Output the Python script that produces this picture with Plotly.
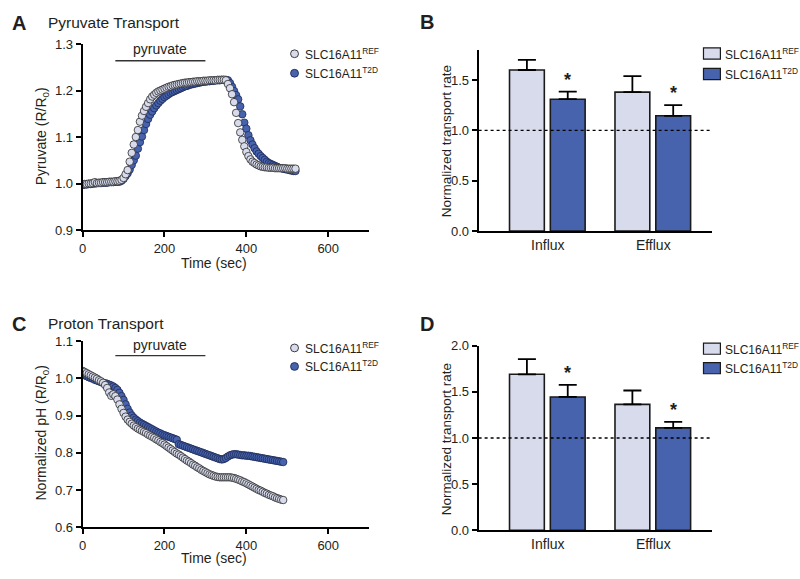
import plotly.graph_objects as go

# ---------------- DATA ----------------
time_A = [0, 5, 10, 15, 20, 25, 30, 35, 40, 45, 50, 55, 60, 65, 70, 75, 80, 85, 90, 95,
          100, 105, 110, 115, 120, 125, 130, 135, 140, 145, 150, 155, 160, 165, 170, 175, 180, 185, 190, 195,
          200, 205, 210, 215, 220, 225, 230, 235, 240, 245, 250, 255, 260, 265, 270, 275, 280, 285, 290, 295,
          300, 305, 310, 315, 320, 325, 330, 335, 340, 345, 350, 355, 360, 365, 370, 375, 380, 385, 390, 395,
          400, 405, 410, 415, 420, 425, 430, 435, 440, 445, 450, 455, 460, 465, 470, 475, 480, 485, 490, 495,
          500, 505, 510, 515, 520]

pyr_ref = [0.998, 0.999, 0.999, 1.000, 1.000, 1.001, 1.003, 1.001, 1.002, 1.002,
           1.003, 1.003, 1.003, 1.004, 1.004, 1.004, 1.005, 1.005, 1.006, 1.008,
           1.012, 1.020, 1.029, 1.047, 1.066, 1.084, 1.100, 1.115, 1.133, 1.146,
           1.156, 1.165, 1.173, 1.181, 1.187, 1.191, 1.195, 1.198, 1.200, 1.202,
           1.204, 1.206, 1.208, 1.209, 1.211, 1.212, 1.213, 1.214, 1.215, 1.216,
           1.217, 1.217, 1.218, 1.218, 1.219, 1.219, 1.220, 1.220, 1.220, 1.221,
           1.221, 1.221, 1.222, 1.222, 1.222, 1.222, 1.223, 1.223, 1.223, 1.223,
           1.222, 1.214, 1.205, 1.192, 1.175, 1.152, 1.130, 1.110, 1.094, 1.080,
           1.068, 1.059, 1.052, 1.047, 1.044, 1.041, 1.039, 1.037, 1.036, 1.035,
           1.035, 1.034, 1.034, 1.034, 1.033, 1.033, 1.033, 1.033, 1.033, 1.033,
           1.032, 1.032, 1.032, 1.032, 1.032]

pyr_t2d = [0.997, 0.998, 0.998, 0.999, 0.999, 1.000, 1.000, 1.001, 1.001, 1.001,
           1.002, 1.002, 1.002, 1.003, 1.003, 1.003, 1.004, 1.004, 1.004, 1.006,
           1.010, 1.016, 1.022, 1.030, 1.040, 1.050, 1.060, 1.075, 1.089, 1.101,
           1.115, 1.128, 1.139, 1.148, 1.155, 1.162, 1.168, 1.173, 1.178, 1.182,
           1.186, 1.189, 1.192, 1.195, 1.197, 1.199, 1.201, 1.203, 1.205, 1.207,
           1.209, 1.210, 1.212, 1.213, 1.214, 1.215, 1.216, 1.217, 1.218, 1.219,
           1.219, 1.220, 1.220, 1.221, 1.221, 1.222, 1.222, 1.222, 1.223, 1.223,
           1.223, 1.222, 1.216, 1.208, 1.199, 1.190, 1.181, 1.166, 1.149, 1.131,
           1.118, 1.104, 1.093, 1.084, 1.076, 1.069, 1.064, 1.059, 1.055, 1.051,
           1.047, 1.044, 1.042, 1.040, 1.038, 1.036, 1.034, 1.033, 1.032, 1.031,
           1.030, 1.029, 1.028, 1.027, 1.027]

time_C = [0, 5, 10, 15, 20, 25, 30, 35, 40, 45, 50, 55, 60, 65, 70, 75, 80, 85, 90, 95,
          100, 105, 110, 115, 120, 125, 130, 135, 140, 145, 150, 155, 160, 165, 170, 175, 180, 185, 190, 195,
          200, 205, 210, 215, 220, 225, 230, 235, 240, 245, 250, 255, 260, 265, 270, 275, 280, 285, 290, 295,
          300, 305, 310, 315, 320, 325, 330, 335, 340, 345, 350, 355, 360, 365, 370, 375, 380, 385, 390, 395,
          400, 405, 410, 415, 420, 425, 430, 435, 440, 445, 450, 455, 460, 465, 470, 475, 480, 485, 490]

ph_ref = [1.020, 1.017, 1.014, 1.011, 1.008, 1.005, 1.002, 0.999, 0.995, 0.992,
          0.988, 0.982, 0.974, 0.962, 0.953, 0.957, 0.952, 0.943, 0.930, 0.918,
          0.907, 0.897, 0.889, 0.883, 0.878, 0.873, 0.869, 0.865, 0.862, 0.859,
          0.856, 0.853, 0.849, 0.846, 0.843, 0.840, 0.836, 0.833, 0.829, 0.826,
          0.822, 0.818, 0.814, 0.810, 0.806, 0.802, 0.798, 0.795, 0.791, 0.787,
          0.783, 0.779, 0.776, 0.772, 0.768, 0.765, 0.761, 0.758, 0.754, 0.751,
          0.748, 0.745, 0.742, 0.740, 0.738, 0.736, 0.735, 0.734, 0.734, 0.734,
          0.734, 0.734, 0.734, 0.733, 0.732, 0.730, 0.728, 0.726, 0.723, 0.721,
          0.718, 0.715, 0.712, 0.709, 0.706, 0.703, 0.700, 0.698, 0.695, 0.692,
          0.690, 0.687, 0.685, 0.683, 0.680, 0.678, 0.676, 0.674, 0.673]

ph_t2d = [1.010, 1.008, 1.006, 1.003, 1.001, 0.999, 0.996, 0.994, 0.992, 0.990,
          0.988, 0.987, 0.985, 0.983, 0.981, 0.978, 0.974, 0.969, 0.961, 0.952,
          0.942, 0.930, 0.918, 0.908, 0.900, 0.894, 0.889, 0.885, 0.881, 0.878,
          0.875, 0.872, 0.869, 0.866, 0.863, 0.860, 0.857, 0.854, 0.852, 0.849,
          0.847, 0.845, 0.843, 0.841, 0.839, 0.837, 0.835, 0.823, 0.821, 0.819,
          0.817, 0.815, 0.813, 0.811, 0.809, 0.807, 0.805, 0.803, 0.801, 0.799,
          0.797, 0.795, 0.793, 0.791, 0.789, 0.787, 0.785, 0.783, 0.782, 0.783,
          0.786, 0.790, 0.793, 0.795, 0.796, 0.796, 0.795, 0.794, 0.793, 0.793,
          0.792, 0.792, 0.791, 0.790, 0.789, 0.788, 0.787, 0.786, 0.785, 0.784,
          0.783, 0.782, 0.781, 0.780, 0.779, 0.778, 0.777, 0.776, 0.775]

categories = ["Influx", "Efflux"]
cat_pos = [0, 1]
B_ref = [1.60, 1.38]
B_ref_err = [0.10, 0.16]
B_t2d = [1.31, 1.145]
B_t2d_err = [0.075, 0.105]
D_ref = [1.69, 1.365]
D_ref_err = [0.165, 0.15]
D_t2d = [1.445, 1.11]
D_t2d_err = [0.13, 0.065]

ref_name = "SLC16A11<sup>REF</sup>"
t2d_name = "SLC16A11<sup>T2D</sup>"

# ---------------- STYLE ----------------
W, H = 800, 579
FONT = "Liberation Sans, Arial, sans-serif"
TXT = "#231f20"
REF_FILL = "#d7dbec"
T2D_FILL = "#4763ae"
EDGE = "#1a1a1a"


def px(x):
    return x / W


def py(y):
    return 1 - y / H


fig = go.Figure()

mk_ref = dict(size=7.5, color=REF_FILL, line=dict(color="#2a2a2a", width=0.8))
mk_t2d = dict(size=7.5, color=T2D_FILL, line=dict(color="#1d2a55", width=0.8))

# Panel A
fig.add_trace(go.Scatter(x=time_A, y=pyr_t2d, mode="markers", marker=mk_t2d,
                         name=t2d_name, xaxis="x", yaxis="y", showlegend=False))
fig.add_trace(go.Scatter(x=time_A, y=pyr_ref, mode="markers", marker=mk_ref,
                         name=ref_name, xaxis="x", yaxis="y", showlegend=False))
# Panel C
fig.add_trace(go.Scatter(x=time_C, y=ph_t2d, mode="markers", marker=mk_t2d,
                         name=t2d_name, xaxis="x3", yaxis="y3", showlegend=False))
fig.add_trace(go.Scatter(x=time_C, y=ph_ref, mode="markers", marker=mk_ref,
                         name=ref_name, xaxis="x3", yaxis="y3", showlegend=False))

BAR_W = 0.33
OFF_REF = -0.363
OFF_T2D = 0.024


def err(v):
    return dict(type="data", array=v, arrayminus=[0] * len(v), symmetric=False,
                color="black", thickness=1.8, width=9)


for (xa, ya, r, re, t, te) in [("x2", "y2", B_ref, B_ref_err, B_t2d, B_t2d_err),
                               ("x4", "y4", D_ref, D_ref_err, D_t2d, D_t2d_err)]:
    fig.add_trace(go.Bar(x=cat_pos, y=r, width=BAR_W, offset=OFF_REF, name=ref_name,
                         marker=dict(color=REF_FILL, line=dict(color=EDGE, width=1.6)),
                         error_y=err(re), xaxis=xa, yaxis=ya, showlegend=False))
    fig.add_trace(go.Bar(x=cat_pos, y=t, width=BAR_W, offset=OFF_T2D, name=t2d_name,
                         marker=dict(color=T2D_FILL, line=dict(color=EDGE, width=1.6)),
                         error_y=err(te), xaxis=xa, yaxis=ya, showlegend=False))
    # significance asterisks above T2D bars
    for i in range(len(cat_pos)):
        fig.add_annotation(x=cat_pos[i] + OFF_T2D + BAR_W / 2, y=t[i] + te[i],
                           xref=xa, yref=ya, text="<b>*</b>", showarrow=False,
                           yanchor="bottom", yshift=0, font=dict(size=18, color=TXT, family=FONT))
    # dashed reference line at 1.0
    fig.add_shape(type="line", xref=f"{xa} domain", yref=ya, x0=0, x1=1, y0=1, y1=1,
                  line=dict(color="black", width=1.4, dash="3px,3px"))

axis_common = dict(showline=True, linecolor="black", linewidth=1.8, ticks="outside",
                   ticklen=5, tickwidth=1.6, tickcolor="black", showgrid=False, zeroline=False,
                   tickfont=dict(family=FONT, size=13, color=TXT))

# x-domains / y-domains in pixels
xA = [px(79), px(367)]
xB = [px(477), px(712)]
yA = [py(229), py(38)]
yB = [py(230), py(44)]
yC = [py(534), py(343)]
yD = [py(537.3), py(347.7)]

fig.update_layout(
    width=W, height=H, margin=dict(l=0, r=0, t=0, b=0),
    paper_bgcolor="white", plot_bgcolor="white",
    font=dict(family=FONT, color=TXT),
    xaxis=dict(domain=xA, range=[0, 700], tickvals=[0, 200, 400, 600], anchor="y", **axis_common),
    yaxis=dict(domain=yA, range=[0.9, 1.3], tickvals=[0.9, 1.0, 1.1, 1.2, 1.3], tickformat=".1f",
               anchor="x", **axis_common),
    xaxis3=dict(domain=xA, range=[0, 700], tickvals=[0, 200, 400, 600], anchor="y3", **axis_common),
    yaxis3=dict(domain=yC, range=[0.6, 1.1], tickvals=[0.6, 0.7, 0.8, 0.9, 1.0, 1.1], tickformat=".1f",
                anchor="x3", **axis_common),
    xaxis2=dict(domain=xB, range=[-0.656, 1.561], tickvals=cat_pos, ticktext=categories, anchor="y2",
                **{**axis_common, "ticks": "", "tickfont": dict(family=FONT, size=14, color=TXT)}),
    yaxis2=dict(domain=yB, range=[0, 1.8], tickvals=[0, 0.5, 1.0, 1.5], tickformat=".1f", anchor="x2",
                **axis_common),
    xaxis4=dict(domain=xB, range=[-0.656, 1.561], tickvals=cat_pos, ticktext=categories, anchor="y4",
                **{**axis_common, "ticks": "", "tickfont": dict(family=FONT, size=14, color=TXT)}),
    yaxis4=dict(domain=yD, range=[0, 2.0], tickvals=[0, 0.5, 1.0, 1.5, 2.0], tickformat=".1f", anchor="x4",
                **axis_common),
)


def ann(x, y, text, size, anchor="center", bold=False, angle=0, yanchor="middle"):
    fig.add_annotation(x=px(x), y=py(y), xref="paper", yref="paper", text=f"<b>{text}</b>" if bold else text,
                       showarrow=False, xanchor=anchor, yanchor=yanchor, textangle=angle,
                       font=dict(family=FONT, size=size, color=TXT))


# Panel letters and titles
ann(15, 16, "A", 20, bold=True)
ann(42, 16, "Pyruvate Transport", 15.5, anchor="left")
ann(425, 15, "B", 20, bold=True)
ann(15, 325, "C", 20, bold=True)
ann(42, 325, "Proton Transport", 15.5, anchor="left")
ann(425, 325, "D", 20, bold=True)

# Axis titles
ann(38, 133, "Pyruvate (R/R<sub>0</sub>)", 14, angle=-90)
ann(211, 263, "Time (sec)", 14)
ann(38, 437, "Normalized pH (R/R<sub>0</sub>)", 14, angle=-90)
ann(211, 566, "Time (sec)", 14)
ann(445, 138, "Normalized transport rate", 13.5, angle=-90)
ann(445, 444, "Normalized transport rate", 13.5, angle=-90)

# pyruvate application bars
for xa, ya, ybar, ytxt in [("x", "y", 1.264, 1.29), ("x3", "y3", 1.061, 1.09)]:
    fig.add_shape(type="line", xref=xa, yref=ya, x0=80, x1=300, y0=ybar, y1=ybar,
                  line=dict(color="#333", width=1.3))
    fig.add_annotation(x=190, y=ytxt, xref=xa, yref=ya, text="pyruvate", showarrow=False,
                       font=dict(family=FONT, size=14, color=TXT))

# Manual legends
for cy1, cy2 in [(48, 68), (350, 369)]:
    for cy, fill, lc, name in [(cy1, REF_FILL, "#2a2a2a", ref_name), (cy2, T2D_FILL, "#1d2a55", t2d_name)]:
        fig.add_shape(type="circle", xref="paper", yref="paper", x0=px(288), x1=px(296),
                      y0=py(cy + 4), y1=py(cy - 4), fillcolor=fill, line=dict(color=lc, width=0.9))
        ann(301, cy, name, 12, anchor="left")

for ry1, ry2 in [(42, 63), (345, 365)]:
    for ry, fill, name in [(ry1, REF_FILL, ref_name), (ry2, T2D_FILL, t2d_name)]:
        fig.add_shape(type="rect", xref="paper", yref="paper", x0=px(703), x1=px(720),
                      y0=py(ry + 11.5), y1=py(ry), fillcolor=fill, line=dict(color=EDGE, width=1.2))
        ann(723, ry + 6, name, 12, anchor="left")

fig.write_html("out.html", config={"displayModeBar": False},
               post_script="document.body.style.margin='0';document.body.style.padding='0';")
